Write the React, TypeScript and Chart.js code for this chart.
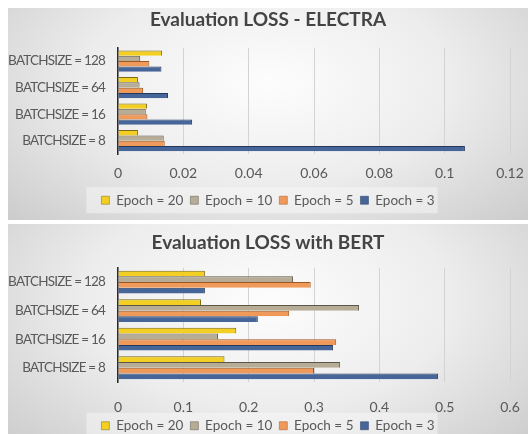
import React, { useEffect, useRef } from 'react';
import { Chart, registerables } from 'chart.js';

Chart.register(...registerables);

const categories = ['BATCHSIZE = 128', 'BATCHSIZE = 64', 'BATCHSIZE = 16', 'BATCHSIZE = 8'];
const seriesLabels = ['Epoch = 20', 'Epoch = 10', 'Epoch = 5', 'Epoch = 3'];

const electraEpoch20 = [0.0135, 0.0061, 0.0089, 0.0061];
const electraEpoch10 = [0.0068, 0.0066, 0.0085, 0.014];
const electraEpoch5 = [0.0096, 0.0077, 0.009, 0.0143];
const electraEpoch3 = [0.0133, 0.0153, 0.0227, 0.1062];

const bertEpoch20 = [0.133, 0.127, 0.181, 0.163];
const bertEpoch10 = [0.268, 0.369, 0.153, 0.34];
const bertEpoch5 = [0.295, 0.262, 0.334, 0.3];
const bertEpoch3 = [0.133, 0.214, 0.329, 0.49];

const electraMax = 0.12;
const electraStep = 0.02;
const bertMax = 0.6;
const bertStep = 0.1;

const FILL = ['#f2cf22', '#b7ad97', '#ef9a5b', '#46669a'];
const EDGE = ['#7c6b12', '#5c564a', '#a0561f', '#23385a'];

const FONT = 'Lato, "Liberation Sans", sans-serif';
const TEXT = '#595959';

const legendBg = {
  id: 'legendBg',
  beforeDraw(chart: any) {
    const lg = chart.legend;
    if (!lg || !lg.legendHitBoxes || !lg.legendHitBoxes.length) return;
    const hb = lg.legendHitBoxes;
    const l = Math.min(...hb.map((h: any) => h.left)) - 15;
    const r = Math.max(...hb.map((h: any) => h.left + h.width)) + 3;
    const cy = hb[0].top + hb[0].height / 2;
    const ctx = chart.ctx;
    ctx.save();
    ctx.fillStyle = 'rgba(250,250,250,0.45)';
    ctx.fillRect(l, cy - 13, r - l, 26);
    ctx.restore();
  },
};

function makeConfig(p: any) {
  const series = p.series as number[][];
  return {
    type: 'bar',
    data: {
      labels: categories,
      datasets: series.map((s, i) => ({
        label: seriesLabels[i],
        data: s,
        backgroundColor: FILL[i],
        borderColor: EDGE[i],
        borderWidth: { top: 1, right: 1, bottom: 0, left: 0 },
        borderSkipped: false,
        categoryPercentage: 0.8,
        barPercentage: 1,
      })),
    },
    options: {
      indexAxis: 'y',
      animation: false,
      responsive: true,
      maintainAspectRatio: false,
      layout: { padding: { top: 0, left: 0, right: 0, bottom: p.padBottom } },
      plugins: {
        title: {
          display: true,
          text: p.title,
          color: '#444444',
          font: { family: FONT, size: 19, weight: 'bold' },
          padding: { top: p.titleTop, bottom: p.titleBottom },
        },
        legend: {
          position: 'bottom',
          labels: {
            color: TEXT,
            font: { family: FONT, size: 13.5 },
            boxWidth: 8,
            boxHeight: 8,
            padding: p.legendPad,
          },
        },
        tooltip: { enabled: false },
      },
      scales: {
        x: {
          min: 0,
          max: p.max,
          ticks: {
            stepSize: p.step,
            color: TEXT,
            font: { family: FONT, size: 14 },
            padding: p.tickPad,
            maxRotation: 0,
            callback: (v: any) => String(Number(Number(v).toFixed(4))),
          },
          grid: { color: '#d3d3d3', lineWidth: 1, drawTicks: false },
          border: { display: false },
          afterFit(scale: any) {
            scale.paddingRight = 18;
            scale.paddingLeft = 0;
            scale.height = p.xHeight;
          },
        },
        y: {
          ticks: {
            color: TEXT,
            font: { family: FONT, size: 13.5 },
            padding: 13,
          },
          grid: { display: false, drawTicks: false },
          border: { display: true, color: '#2a2a2a', width: 1.5 },
          afterFit(scale: any) {
            scale.width = 110;
            if (!scale.__condensed) {
              const orig = scale.drawLabels.bind(scale);
              scale.drawLabels = (area: any) => {
                const ctx = scale.ctx;
                const prev = ctx.letterSpacing;
                ctx.letterSpacing = '-0.8px';
                orig(area);
                ctx.letterSpacing = prev || '0px';
              };
              scale.__condensed = true;
            }
          },
        },
      },
    },
    plugins: [legendBg],
  };
}

function ChartPanel({ config, style }: any) {
  const ref = useRef<HTMLCanvasElement | null>(null);
  useEffect(() => {
    const chart = new Chart(ref.current as HTMLCanvasElement, config);
    return () => chart.destroy();
  }, []);
  return (
    <div style={style}>
      <canvas ref={ref} />
    </div>
  );
}

const panelBg =
  'radial-gradient(ellipse 70% 95% at 50% 35%, #fdfdfd 0%, #ededed 50%, #cbcbcb 100%)';

export default function App() {
  const top = makeConfig({
    title: 'Evaluation LOSS - ELECTRA',
    series: [electraEpoch20, electraEpoch10, electraEpoch5, electraEpoch3],
    max: electraMax,
    step: electraStep,
    titleTop: 0.5,
    titleBottom: 16.5,
    tickPad: 11,
    xHeight: 32.5,
    legendPad: 7,
    padBottom: 3,
  });
  const bottom = makeConfig({
    title: 'Evaluation LOSS with BERT',
    series: [bertEpoch20, bertEpoch10, bertEpoch5, bertEpoch3],
    max: bertMax,
    step: bertStep,
    titleTop: 7.5,
    titleBottom: 13.5,
    tickPad: 17,
    xHeight: 30,
    legendPad: 7,
    padBottom: 3.5,
  });
  return (
    <div style={{ position: 'fixed', left: 0, top: 0, width: 528, height: 434, overflow: 'hidden', background: '#ffffff' }}>
      <ChartPanel
        config={top}
        style={{ position: 'absolute', left: 8, top: 8, width: 520, height: 212, background: panelBg }}
      />
      <ChartPanel
        config={bottom}
        style={{ position: 'absolute', left: 8, top: 224, width: 520, height: 222, background: panelBg }}
      />
    </div>
  );
}
